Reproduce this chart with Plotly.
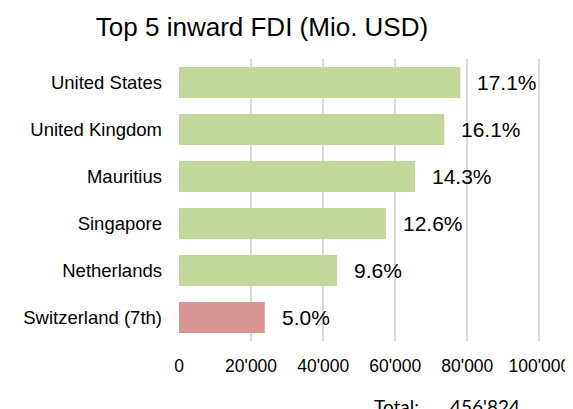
import plotly.graph_objects as go

countries = ["United States", "United Kingdom", "Mauritius", "Singapore", "Netherlands", "Switzerland (7th)"]
values = [78050, 73600, 65500, 57400, 43900, 23800]
pct_labels = ["17.1%", "16.1%", "14.3%", "12.6%", "9.6%", "5.0%"]
bar_colors = ["#c4d79b", "#c4d79b", "#c4d79b", "#c4d79b", "#c4d79b", "#da9694"]
tick_vals = [0, 20000, 40000, 60000, 80000, 100000]
tick_text = ["0", "20'000", "40'000", "60'000", "80'000", "100'000"]
total_label = "456'824"

# the page body has an 8px default margin; figure is sized to fill the rest of the window
OFF = 8
W, H = 573 - OFF, 409 - OFF
X_MAX = 101000
L, T, B = 179.3 - OFF, 58.5 - OFF, 341.0 - OFF
R = L + (539.4 - 179.3) * X_MAX / 100000


def px(x):
    return (x - OFF - L) / (R - L)


def py(y):
    return (B - (y - OFF)) / (B - T)


fig = go.Figure()
fig.add_trace(go.Bar(
    y=countries, x=values, orientation="h",
    marker=dict(color=bar_colors, line=dict(width=0)),
    width=0.66, hoverinfo="skip",
))

for c, v, t in zip(countries, values, pct_labels):
    fig.add_annotation(x=v, y=c, xref="x", yref="y", text=t, showarrow=False,
                       xanchor="left", yanchor="middle", xshift=15,
                       font=dict(family="Liberation Sans, Arial", size=21, color="#000000"))

fig.add_annotation(x=px(372), y=py(393), xref="paper", yref="paper", text="Total:",
                   showarrow=False, xanchor="left", yanchor="top",
                   font=dict(family="Lato, Carlito, Liberation Sans", size=19, color="#000000"))
fig.add_annotation(x=px(448), y=py(393), xref="paper", yref="paper", text=total_label,
                   showarrow=False, xanchor="left", yanchor="top",
                   font=dict(family="Lato, Carlito, Liberation Sans", size=19, color="#000000"))

fig.update_layout(
    width=W, height=H,
    title=dict(text="Top 5 inward FDI (Mio. USD)", x=(262 - OFF) / W, xref="container", xanchor="center",
               y=1 - (27 - OFF) / H, yref="container", yanchor="middle",
               font=dict(family="Liberation Sans, Arial", size=26, color="#000000")),
    margin=dict(l=L, r=W - R, t=T, b=H - B, pad=0, autoexpand=False),
    paper_bgcolor="white", plot_bgcolor="white",
    showlegend=False,
    xaxis=dict(range=[0, X_MAX], tickvals=tick_vals, ticktext=tick_text,
               showgrid=True, gridcolor="#d9d9d9", gridwidth=2,
               zeroline=False, showline=False, ticks="", automargin=False,
               ticklabelstandoff=12,
               tickfont=dict(family="Liberation Sans, Arial", size=17.5, color="#000000")),
    yaxis=dict(autorange="reversed", showgrid=False, zeroline=False, showline=False,
               ticks="", ticklabelstandoff=16, automargin=False,
               tickfont=dict(family="Liberation Sans, Arial", size=18.5, color="#000000")),
    bargap=0.34,
)

fig.write_html("out.html")
